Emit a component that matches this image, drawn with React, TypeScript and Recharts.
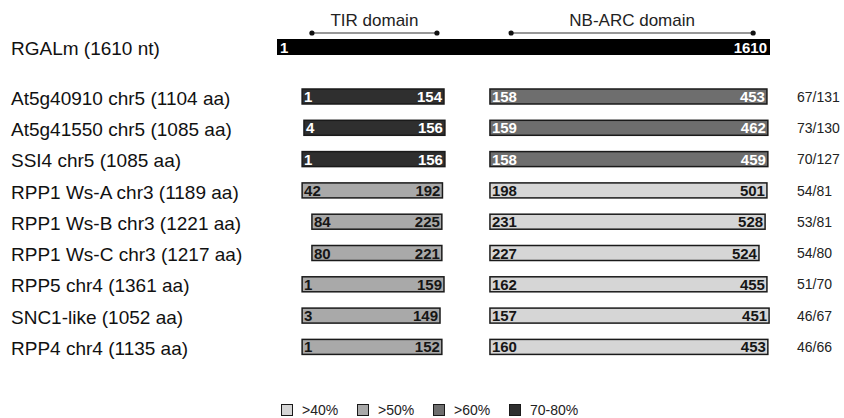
import { Bar, BarChart, Legend, XAxis, YAxis } from "recharts";

const font = "'Liberation Sans', Arial, Helvetica, sans-serif";

// reference sequence (positions on the RGALm nt scale)
const refName = "RGALm (1610 nt)";
const refSpan = [1, 1610];
const domainNames = ["TIR domain", "NB-ARC domain"];
const domainSpans = [[115, 523], [765, 1555]];

const proteins = [
  "At5g40910 chr5 (1104 aa)",
  "At5g41550 chr5 (1085 aa)",
  "SSI4 chr5 (1085 aa)",
  "RPP1 Ws-A chr3 (1189 aa)",
  "RPP1 Ws-B chr3 (1221 aa)",
  "RPP1 Ws-C chr3 (1217 aa)",
  "RPP5 chr4 (1361 aa)",
  "SNC1-like (1052 aa)",
  "RPP4 chr4 (1135 aa)",
];

// aa numbers printed at each end of the domain boxes
const tirLabels = [[1, 154], [4, 156], [1, 156], [42, 192], [84, 225], [80, 221], [1, 159], [3, 149], [1, 152]];
const nbLabels = [[158, 453], [159, 462], [158, 459], [198, 501], [231, 528], [227, 524], [162, 455], [157, 451], [160, 453]];

// where each box sits along RGALm (nt)
const tirSpan = [[83, 546], [89, 549], [83, 549], [83, 541], [115, 539], [115, 539], [83, 546], [83, 533], [83, 539]];
const nbSpan = [[696, 1600], [696, 1603], [696, 1603], [696, 1600], [696, 1594], [696, 1574], [696, 1600], [696, 1607], [696, 1603]];

const identity = ["67/131", "73/130", "70/127", "54/81", "53/81", "54/80", "51/70", "46/67", "46/66"];

const tirClass = ["70-80%", "70-80%", "70-80%", ">50%", ">50%", ">50%", ">50%", ">50%", ">50%"];
const nbClass = [">60%", ">60%", ">60%", ">40%", ">40%", ">40%", ">40%", ">40%", ">40%"];

const classes = [">40%", ">50%", ">60%", "70-80%"];
const classFill: Record<string, string> = {
  ">40%": "#d6d6d6",
  ">50%": "#a9a9a9",
  ">60%": "#6e6e6e",
  "70-80%": "#2f2f2f",
};

const refData = [{ name: refName, full: refSpan, tirB: domainSpans[0], nbB: domainSpans[1] }];
const rowData = proteins.map((name, i) => ({ name, i, tir: tirSpan[i], nb: nbSpan[i] }));

function DomainBox(props: any) {
  const { x, y, width, height, payload, kind } = props;
  if (width == null || isNaN(width)) return null;
  const i = payload.i;
  const labels = kind === "tir" ? tirLabels[i] : nbLabels[i];
  const cls = kind === "tir" ? tirClass[i] : nbClass[i];
  const txt = cls === ">40%" || cls === ">50%" ? "#161616" : "#ffffff";
  const cy = y + height / 2;
  return (
    <g>
      <rect x={x} y={y} width={width} height={height} fill={classFill[cls]} stroke="#1a1a1a" strokeWidth={1.5} />
      <text x={x + 2} y={cy + 5.5} fill={txt} fontSize={15} fontWeight="bold" fontFamily={font}>{labels[0]}</text>
      <text x={x + width - 2} y={cy + 5.5} fill={txt} fontSize={15} fontWeight="bold" fontFamily={font} textAnchor="end">{labels[1]}</text>
    </g>
  );
}

function RefBox(props: any) {
  const { x, y, width, height } = props;
  const cy = y + height / 2;
  return (
    <g>
      <rect x={x} y={y} width={width} height={height} fill="#000" />
      <text x={x + 3} y={cy + 5.5} fill="#fff" fontSize={15} fontWeight="bold" fontFamily={font}>{refSpan[0]}</text>
      <text x={x + width - 3} y={cy + 5.5} fill="#fff" fontSize={15} fontWeight="bold" fontFamily={font} textAnchor="end">{refSpan[1]}</text>
    </g>
  );
}

function Bracket(props: any) {
  const { x, y, width, height, name } = props;
  const ly = y + height / 2 - 14;
  return (
    <g>
      <line x1={x} x2={x + width} y1={ly} y2={ly} stroke="#333" strokeWidth={1.2} />
      <circle cx={x} cy={ly} r={2.6} fill="#111" />
      <circle cx={x + width} cy={ly} r={2.6} fill="#111" />
      <text x={x + width / 2} y={ly - 7} textAnchor="middle" fontSize={17} fill="#222" fontFamily={font}>{name}</text>
    </g>
  );
}

const NameTick = (props: any) => (
  <text x={11} y={props.y + 8} fontSize={19} fill="#111" fontFamily={font}>{props.payload.value}</text>
);

const IdentityTick = (props: any) => (
  <text x={797} y={props.y + 5} fontSize={14} fill="#222" fontFamily={font}>
    {identity[proteins.indexOf(props.payload.value)]}
  </text>
);

const LegendBoxes = () => (
  <svg width={844} height={16}>
    {classes.map((c, k) => (
      <g key={c}>
        <rect x={281.5 + k * 76} y={2.5} width={11} height={11} fill={classFill[c]} stroke="#1a1a1a" strokeWidth={1} />
        <text x={302 + k * 76} y={13} fontSize={14} fill="#222" fontFamily={font}>{c}</text>
      </g>
    ))}
  </svg>
);

export default function App() {
  return (
    <div style={{ position: "absolute", left: 0, top: 0, width: 844, height: 418, background: "#fff" }}>
      <div style={{ position: "absolute", left: 0, top: 0 }}>
        <BarChart width={844} height={66} data={refData} layout="vertical" margin={{ top: 30, right: 74, bottom: 2, left: 0 }}>
          <XAxis type="number" domain={[1, 1610]} hide />
          <YAxis yAxisId="l" type="category" dataKey="name" width={277} axisLine={false} tickLine={false} tick={NameTick} />
          <YAxis yAxisId="b1" type="category" dataKey="name" hide />
          <YAxis yAxisId="b2" type="category" dataKey="name" hide />
          <Bar yAxisId="l" dataKey="full" barSize={16} isAnimationActive={false} shape={(p: any) => <RefBox {...p} />} />
          <Bar yAxisId="b1" dataKey="tirB" barSize={16} isAnimationActive={false} shape={(p: any) => <Bracket {...p} name={domainNames[0]} />} />
          <Bar yAxisId="b2" dataKey="nbB" barSize={16} isAnimationActive={false} shape={(p: any) => <Bracket {...p} name={domainNames[1]} />} />
        </BarChart>
      </div>
      <div style={{ position: "absolute", left: 0, top: 0 }}>
        <BarChart width={844} height={418} data={rowData} layout="vertical" margin={{ top: 81, right: 0, bottom: 55.3, left: 0 }}>
          <XAxis type="number" domain={[1, 1610]} hide />
          <YAxis yAxisId="l" type="category" dataKey="name" width={277} axisLine={false} tickLine={false} tick={NameTick} />
          <YAxis yAxisId="r" orientation="right" type="category" dataKey="name" width={74} axisLine={false} tickLine={false} tick={IdentityTick} />
          <Bar yAxisId="l" dataKey="tir" barSize={15} isAnimationActive={false} shape={(p: any) => <DomainBox {...p} kind="tir" />} />
          <Bar yAxisId="r" dataKey="nb" barSize={15} isAnimationActive={false} shape={(p: any) => <DomainBox {...p} kind="nb" />} />
          <Legend
            layout="horizontal"
            verticalAlign="middle"
            align="center"
            wrapperStyle={{ top: 402, left: 0, width: 844, height: 16 }}
            content={() => <LegendBoxes />}
          />
        </BarChart>
      </div>
    </div>
  );
}
